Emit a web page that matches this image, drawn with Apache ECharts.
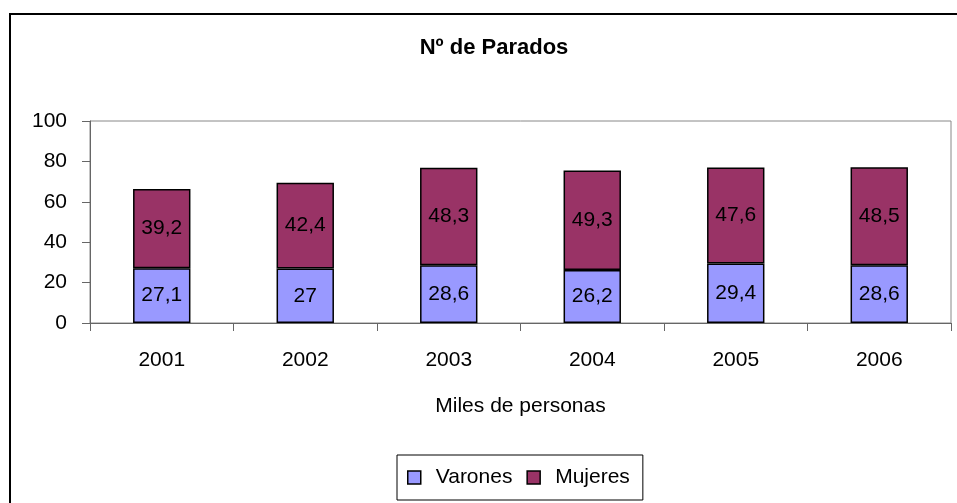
<!DOCTYPE html>
<html>
<head>
<meta charset="utf-8">
<script src="https://cdn.jsdelivr.net/npm/echarts@6/dist/echarts.min.js"></script>
<style>
html,body{margin:0;padding:0;background:#fff;}
#main{width:957px;height:503px;}
</style>
</head>
<body>
<div id="main"></div>
<script>
// datos del grafico
var anios = ['2001', '2002', '2003', '2004', '2005', '2006'];
var varones = [27.1, 27, 28.6, 26.2, 29.4, 28.6];
var mujeres = [39.2, 42.4, 48.3, 49.3, 47.6, 48.5];
var ejeY = [0, 20, 40, 60, 80, 100];

var fuente = '"Liberation Sans", Arial, sans-serif';
var tam = 21;

var myChart = echarts.init(document.getElementById('main'));

// etiqueta con coma decimal
function coma(p) {
    return String(p.value).replace('.', ',');
}

var option = {
    backgroundColor: '#fff',
    animation: false,
    graphic: [{
        type: 'rect',
        shape: { x: 10, y: 14, width: 980, height: 520 },
        style: { fill: 'none', stroke: '#000', lineWidth: 2 },
        silent: true
    }],
    title: {
        text: 'Nº de Parados',
        left: 489,
        top: 32,
        textAlign: 'center',
        textStyle: {
            fontFamily: fuente,
            fontSize: 22,
            fontWeight: 'bold',
            color: '#000'
        }
    },
    legend: {
        data: ['Varones', 'Mujeres'],
        left: 397,
        top: 455,
        orient: 'horizontal',
        icon: 'rect',
        itemWidth: 13,
        itemHeight: 13,
        itemGap: 14,
        padding: [12, 13, 12, 10],
        borderColor: '#000',
        borderWidth: 1,
        itemStyle: { borderColor: '#000', borderWidth: 1.5 },
        textStyle: {
            fontFamily: fuente,
            fontSize: tam,
            color: '#000',
            padding: [0, 0, 0, 10]
        }
    },
    grid: {
        left: 90,
        right: 6,
        top: 121,
        bottom: 180,
        show: true,
        borderColor: '#888',
        borderWidth: 1,
        backgroundColor: '#fff'
    },
    xAxis: {
        type: 'category',
        data: anios,
        name: 'Miles de personas',
        nameLocation: 'middle',
        nameGap: 73,
        nameTextStyle: {
            fontFamily: fuente,
            fontSize: tam,
            color: '#000'
        },
        axisLine: { lineStyle: { color: '#666', width: 1 } },
        axisTick: { show: true, length: 8, lineStyle: { color: '#666' } },
        axisLabel: {
            margin: 27,
            fontFamily: fuente,
            fontSize: tam,
            color: '#000'
        }
    },
    yAxis: {
        type: 'value',
        min: 0,
        max: 100,
        interval: 20,
        axisLine: { show: true, lineStyle: { color: '#666', width: 1 } },
        axisTick: { show: true, length: 8, lineStyle: { color: '#666' } },
        splitLine: { show: false },
        axisLabel: {
            margin: 23,
            fontFamily: fuente,
            fontSize: tam,
            color: '#000',
            formatter: function (v) { return ejeY.indexOf(v) >= 0 ? String(v) : ''; }
        }
    },
    series: [{
        name: 'Varones',
        type: 'bar',
        stack: 'total',
        barWidth: '40%',
        data: varones,
        itemStyle: { color: '#9999FF', borderColor: '#000', borderWidth: 1.5 },
        label: {
            show: true,
            position: 'inside',
            formatter: coma,
            fontFamily: fuente,
            fontSize: tam,
            color: '#000'
        }
    }, {
        name: 'Mujeres',
        type: 'bar',
        stack: 'total',
        barWidth: '40%',
        data: mujeres,
        itemStyle: { color: '#993366', borderColor: '#000', borderWidth: 1.5 },
        label: {
            show: true,
            position: 'inside',
            formatter: coma,
            fontFamily: fuente,
            fontSize: tam,
            color: '#000'
        }
    }]
};

myChart.setOption(option);
</script>
</body>
</html>
